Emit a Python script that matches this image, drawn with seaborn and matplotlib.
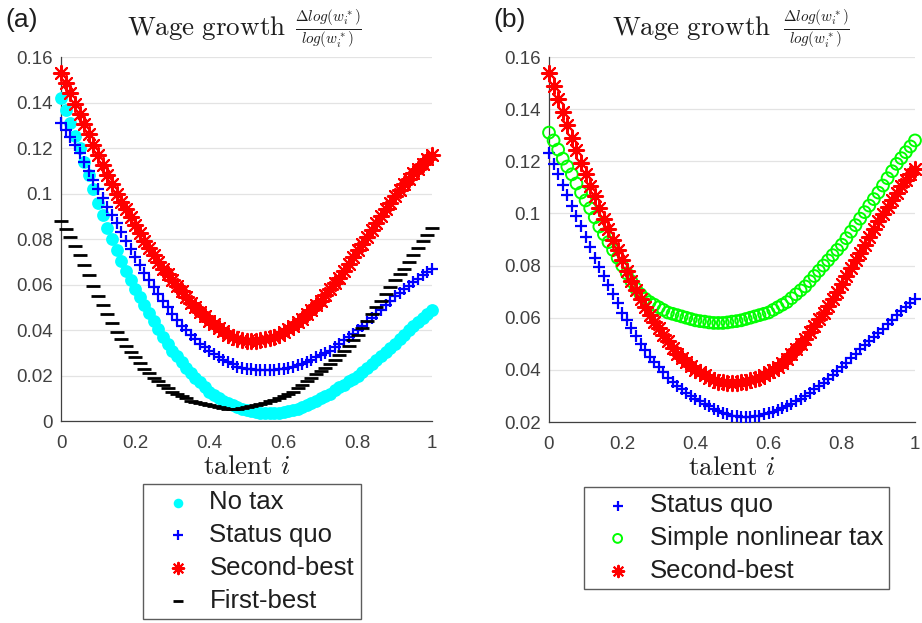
import matplotlib
matplotlib.use("Agg")
import matplotlib.pyplot as plt
import pandas as pd
import seaborn as sns
from matplotlib.ticker import FuncFormatter, FixedLocator

# talent grid
talent = [0.0, 0.0125, 0.025, 0.0375, 0.05, 0.0625, 0.075, 0.0875, 0.1, 0.1125,
          0.125, 0.1375, 0.15, 0.1625, 0.175, 0.1875, 0.2, 0.2125, 0.225, 0.2375,
          0.25, 0.2625, 0.275, 0.2875, 0.3, 0.3125, 0.325, 0.3375, 0.35, 0.3625,
          0.375, 0.3875, 0.4, 0.4125, 0.425, 0.4375, 0.45, 0.4625, 0.475, 0.4875,
          0.5, 0.5125, 0.525, 0.5375, 0.55, 0.5625, 0.575, 0.5875, 0.6, 0.6125,
          0.625, 0.6375, 0.65, 0.6625, 0.675, 0.6875, 0.7, 0.7125, 0.725, 0.7375,
          0.75, 0.7625, 0.775, 0.7875, 0.8, 0.8125, 0.825, 0.8375, 0.85, 0.8625,
          0.875, 0.8875, 0.9, 0.9125, 0.925, 0.9375, 0.95, 0.9625, 0.975, 0.9875,
          1.0]

# panel (a): wage growth under each policy
a_no_tax = [0.142, 0.1365, 0.131, 0.1255, 0.120, 0.114, 0.108, 0.102, 0.096, 0.0905,
            0.085, 0.080, 0.075, 0.0705, 0.066, 0.062, 0.058, 0.0545, 0.051, 0.0475,
            0.044, 0.0405, 0.037, 0.034, 0.031, 0.0285, 0.026, 0.0235, 0.021, 0.019,
            0.017, 0.015, 0.013, 0.0115, 0.010, 0.009, 0.008, 0.007, 0.006, 0.0055,
            0.005, 0.0045, 0.004, 0.0037, 0.0035, 0.0034, 0.0035, 0.0037, 0.004, 0.0045,
            0.005, 0.0055, 0.006, 0.007, 0.008, 0.009, 0.010, 0.011, 0.012, 0.0135,
            0.015, 0.016, 0.0175, 0.0187, 0.020, 0.0217, 0.0235, 0.0252, 0.027, 0.0287,
            0.0305, 0.0322, 0.034, 0.036, 0.038, 0.040, 0.042, 0.0437, 0.0455, 0.0472,
            0.049]
a_status_quo = [0.131, 0.128, 0.125, 0.1215, 0.118, 0.114, 0.110, 0.106, 0.102, 0.098,
                0.094, 0.0905, 0.087, 0.083, 0.079, 0.0755, 0.072, 0.0685, 0.065, 0.062,
                0.059, 0.056, 0.053, 0.050, 0.047, 0.0445, 0.042, 0.040, 0.038, 0.036,
                0.034, 0.0325, 0.031, 0.0295, 0.028, 0.027, 0.026, 0.025, 0.024, 0.0235,
                0.023, 0.0227, 0.0225, 0.0225, 0.0225, 0.0225, 0.0225, 0.0228, 0.023, 0.0235,
                0.024, 0.0245, 0.025, 0.026, 0.027, 0.028, 0.029, 0.030, 0.031, 0.0325,
                0.034, 0.0355, 0.037, 0.0385, 0.040, 0.0417, 0.0435, 0.0452, 0.047, 0.049,
                0.051, 0.053, 0.055, 0.0565, 0.058, 0.0595, 0.061, 0.0625, 0.064, 0.0655,
                0.067]
a_second_best = [0.153, 0.1485, 0.144, 0.1395, 0.135, 0.1305, 0.126, 0.1215, 0.117, 0.1125,
                 0.108, 0.104, 0.100, 0.0965, 0.093, 0.0895, 0.086, 0.0825, 0.079, 0.076,
                 0.073, 0.070, 0.067, 0.0645, 0.062, 0.0595, 0.057, 0.0545, 0.052, 0.050,
                 0.048, 0.046, 0.044, 0.0425, 0.041, 0.0395, 0.038, 0.037, 0.036, 0.0355,
                 0.035, 0.035, 0.035, 0.0355, 0.036, 0.0365, 0.037, 0.038, 0.039, 0.0405,
                 0.042, 0.0435, 0.045, 0.047, 0.049, 0.051, 0.053, 0.0555, 0.058, 0.0605,
                 0.063, 0.066, 0.069, 0.072, 0.075, 0.078, 0.081, 0.084, 0.087, 0.090,
                 0.093, 0.096, 0.099, 0.1015, 0.104, 0.1065, 0.109, 0.111, 0.113, 0.115,
                 0.117]
a_first_best = [0.088, 0.0845, 0.081, 0.077, 0.073, 0.0685, 0.064, 0.0595, 0.055, 0.051,
                0.047, 0.043, 0.039, 0.036, 0.033, 0.0305, 0.028, 0.0255, 0.023, 0.021,
                0.019, 0.0175, 0.016, 0.0145, 0.013, 0.012, 0.011, 0.010, 0.009, 0.0085,
                0.008, 0.0075, 0.007, 0.0065, 0.006, 0.0058, 0.0055, 0.0055, 0.0055, 0.0057,
                0.006, 0.0065, 0.007, 0.0075, 0.008, 0.0087, 0.0095, 0.0102, 0.011, 0.012,
                0.013, 0.0145, 0.016, 0.0175, 0.019, 0.0205, 0.022, 0.0235, 0.025, 0.027,
                0.029, 0.031, 0.033, 0.0355, 0.038, 0.041, 0.044, 0.047, 0.050, 0.053,
                0.056, 0.059, 0.062, 0.0645, 0.067, 0.070, 0.073, 0.076, 0.079, 0.082,
                0.085]

# panel (b): status quo, simple nonlinear tax and second-best
b_status_quo = [0.123, 0.119, 0.115, 0.111, 0.107, 0.103, 0.099, 0.095, 0.091, 0.087,
                0.083, 0.0795, 0.076, 0.0725, 0.069, 0.0655, 0.062, 0.059, 0.056, 0.053,
                0.050, 0.0475, 0.045, 0.043, 0.041, 0.039, 0.037, 0.0355, 0.034, 0.0325,
                0.031, 0.030, 0.029, 0.028, 0.027, 0.026, 0.025, 0.0242, 0.0235, 0.023,
                0.0225, 0.0222, 0.022, 0.022, 0.022, 0.0222, 0.0225, 0.023, 0.0235, 0.024,
                0.0245, 0.0252, 0.026, 0.027, 0.028, 0.029, 0.030, 0.0312, 0.0325, 0.0337,
                0.035, 0.0365, 0.038, 0.0395, 0.041, 0.0427, 0.0445, 0.0462, 0.048, 0.0495,
                0.051, 0.0525, 0.054, 0.0557, 0.0575, 0.0592, 0.061, 0.0625, 0.064, 0.0655,
                0.067]
b_simple_nonlinear = [0.131, 0.128, 0.1245, 0.121, 0.118, 0.115, 0.1115, 0.108, 0.105, 0.102,
                      0.0985, 0.095, 0.092, 0.089, 0.086, 0.083, 0.080, 0.077, 0.074, 0.0712,
                      0.069, 0.0673, 0.066, 0.065, 0.064, 0.063, 0.062, 0.0615, 0.061, 0.0605,
                      0.060, 0.0595, 0.059, 0.0587, 0.0585, 0.0582, 0.058, 0.058, 0.058, 0.0582,
                      0.0585, 0.0587, 0.059, 0.0595, 0.060, 0.0605, 0.061, 0.0615, 0.062, 0.063,
                      0.064, 0.065, 0.066, 0.0675, 0.069, 0.0705, 0.072, 0.074, 0.076, 0.078,
                      0.080, 0.082, 0.084, 0.086, 0.088, 0.0905, 0.093, 0.0955, 0.098, 0.1005,
                      0.103, 0.1055, 0.108, 0.1107, 0.1135, 0.1162, 0.119, 0.1212, 0.1235, 0.1257,
                      0.128]
b_second_best = [0.154, 0.149, 0.144, 0.139, 0.134, 0.129, 0.1245, 0.1195, 0.115, 0.1107,
                 0.1065, 0.102, 0.098, 0.094, 0.090, 0.086, 0.082, 0.078, 0.074, 0.0705,
                 0.067, 0.064, 0.061, 0.0585, 0.056, 0.0535, 0.051, 0.0485, 0.046, 0.0445,
                 0.043, 0.0415, 0.040, 0.039, 0.038, 0.037, 0.036, 0.0355, 0.0352, 0.035,
                 0.035, 0.035, 0.0352, 0.0355, 0.036, 0.0365, 0.037, 0.038, 0.039, 0.040,
                 0.041, 0.0425, 0.044, 0.046, 0.048, 0.050, 0.052, 0.0545, 0.057, 0.0595,
                 0.062, 0.0645, 0.067, 0.070, 0.073, 0.076, 0.079, 0.082, 0.085, 0.088,
                 0.091, 0.094, 0.097, 0.0997, 0.1025, 0.1052, 0.108, 0.1105, 0.113, 0.115,
                 0.117]

x_ticks = [0, 0.2, 0.4, 0.6, 0.8, 1.0]
a_y_ticks = [0, 0.02, 0.04, 0.06, 0.08, 0.10, 0.12, 0.14, 0.16]
b_y_ticks = [0.02, 0.04, 0.06, 0.08, 0.10, 0.12, 0.14, 0.16]

sns.set_style("white")
plt.rcParams["font.family"] = ["Liberation Sans", "DejaVu Sans"]
plt.rcParams["mathtext.fontset"] = "cm"

ASTERISK = (8, 2, 0)
AXIS_GREY = "#404040"
TEXT = "#1e1e1e"

fig = plt.figure(figsize=(9.22, 6.23), dpi=100)
ax_a = fig.add_axes([61 / 922, 0.324, 371 / 922, 0.5845])
ax_b = fig.add_axes([549 / 922, 0.3226, 366 / 922, 0.5859])

df_a = pd.DataFrame({"talent": talent, "No tax": a_no_tax, "Status quo": a_status_quo,
                     "Second-best": a_second_best, "First-best": a_first_best})
df_b = pd.DataFrame({"talent": talent, "Status quo": b_status_quo,
                     "Simple nonlinear tax": b_simple_nonlinear, "Second-best": b_second_best})

styles = {
    "No tax": dict(marker="o", s=85, color="#00ffff", linewidth=0),
    "Status quo": dict(marker="+", s=80, color="#0000ff", linewidth=1.6),
    "Second-best": dict(marker=ASTERISK, s=120, color="#ff0000", linewidth=1.5),
    "First-best": dict(marker="_", s=95, color="black", linewidth=2.0),
    "Simple nonlinear tax": dict(marker="o", s=72, facecolor="none",
                                 edgecolor="#00ff00", linewidth=1.4),
}


def draw(ax, df, names):
    for name in names:
        sns.scatterplot(data=df, x="talent", y=name, ax=ax, label=name,
                        clip_on=False, zorder=3, **styles[name])


draw(ax_a, df_a, ["No tax", "Status quo", "Second-best", "First-best"])
draw(ax_b, df_b, ["Status quo", "Simple nonlinear tax", "Second-best"])


def fmt(v, pos):
    return "%g" % round(v, 4)


for ax, yt, lo in [(ax_a, a_y_ticks, 0.0), (ax_b, b_y_ticks, 0.02)]:
    ax.set_xlim(0, 1)
    ax.set_ylim(lo, 0.16)
    ax.xaxis.set_major_locator(FixedLocator(x_ticks))
    ax.yaxis.set_major_locator(FixedLocator(yt))
    ax.xaxis.set_major_formatter(FuncFormatter(fmt))
    ax.yaxis.set_major_formatter(FuncFormatter(fmt))
    ax.yaxis.grid(True, color="#e3e3e3", linewidth=0.9)
    ax.set_axisbelow(True)
    for side in ["top", "right"]:
        ax.spines[side].set_visible(False)
    for side in ["left", "bottom"]:
        ax.spines[side].set_color(AXIS_GREY)
        ax.spines[side].set_linewidth(0.9)
    ax.tick_params(axis="both", direction="in", length=3, width=0.8,
                   colors=AXIS_GREY, labelsize=13.5)
    ax.tick_params(axis="x", pad=10)
    ax.tick_params(axis="y", pad=6)
    ax.set_ylabel("")
    ax.set_xlabel(r"$\mathrm{talent}\ i$", fontsize=19.5, color=TEXT, va="top")
    ax.xaxis.set_label_coords(0.5, -0.09)
    ax.get_legend().remove()

# panel titles: words and the growth-rate fraction
frac = r"$\frac{\Delta log(w_i^*)}{log(w_i^*)}$"
for x0, xf, tag, xt in [(127, 362, "(a)", 5), (612, 850, "(b)", 493)]:
    fig.text(x0 / 922, 1 - 35 / 623, r"$\mathrm{Wage\ growth}$", ha="left",
             va="baseline", fontsize=19.5, color=TEXT)
    fig.text(xf / 922, 1 - 29 / 623, frac, ha="right", va="center",
             fontsize=15.5, color=TEXT)
    fig.text(xt / 922, 1 - 20 / 623, tag, ha="left", va="center",
             fontsize=19, color=TEXT)

legend_kw = dict(loc="upper center", bbox_transform=fig.transFigure, frameon=True,
                 fancybox=False, edgecolor="#333333", fontsize=18.5, borderpad=0.25,
                 handlelength=2.15, handletextpad=0.17, labelspacing=0.34,
                 borderaxespad=0, scatterpoints=1, markerscale=0.75)
for ax, anchor in [(ax_a, (252 / 922, 1 - 484 / 623)), (ax_b, (736.5 / 922, 1 - 487 / 623))]:
    h, l = ax.get_legend_handles_labels()
    leg = ax.legend(h, l, bbox_to_anchor=anchor, **legend_kw)
    leg.get_frame().set_linewidth(1.0)
    for t in leg.get_texts():
        t.set_color(TEXT)

fig.savefig("out.png", dpi=100)
